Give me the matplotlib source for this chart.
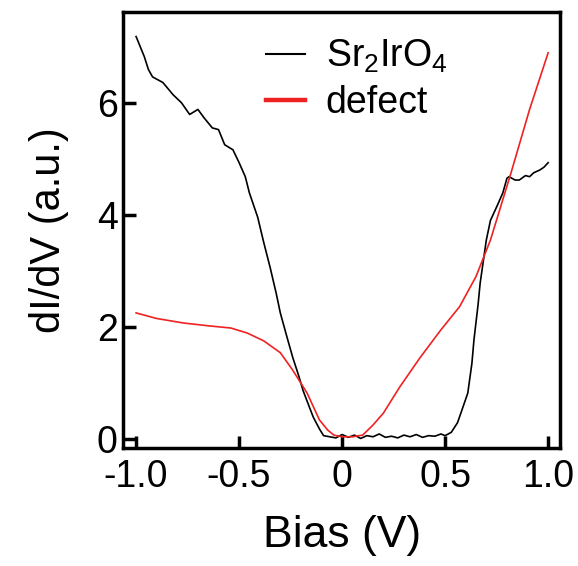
# dI/dV spectra: Sr2IrO4 vs defect

import matplotlib
matplotlib.use('Agg')
import matplotlib.pyplot as plt
from matplotlib.lines import Line2D

# Sr2IrO4 (black)
bias_sr = [-1.00, -0.98, -0.96, -0.94, -0.92, -0.87, -0.82, -0.78, -0.74, -0.70,
           -0.67, -0.63, -0.60, -0.57, -0.53, -0.50, -0.47, -0.45, -0.41, -0.38,
           -0.35, -0.32, -0.30, -0.27, -0.24, -0.21, -0.19, -0.16, -0.14, -0.11,
           -0.09, -0.06, -0.03, 0.00, 0.03, 0.06, 0.09, 0.12, 0.15, 0.18,
           0.21, 0.24, 0.27, 0.30, 0.33, 0.36, 0.39, 0.42, 0.45, 0.48,
           0.50, 0.53, 0.56, 0.58, 0.61, 0.63, 0.64, 0.66, 0.67, 0.70,
           0.72, 0.75, 0.78, 0.80, 0.81, 0.84, 0.86, 0.89, 0.91, 0.93,
           0.96, 0.98, 1.00]
didv_sr = [7.18, 7.00, 6.82, 6.59, 6.46, 6.36, 6.14, 6.00, 5.79, 5.88,
           5.73, 5.55, 5.52, 5.25, 5.16, 4.93, 4.68, 4.39, 3.96, 3.50,
           3.07, 2.60, 2.25, 1.85, 1.46, 1.12, 0.87, 0.58, 0.39, 0.18,
           0.06, 0.04, 0.02, 0.08, 0.03, 0.07, 0.01, 0.06, 0.04, 0.09,
           0.03, 0.05, 0.02, 0.07, 0.04, 0.08, 0.03, 0.06, 0.05, 0.09,
           0.06, 0.12, 0.29, 0.50, 0.82, 1.35, 1.77, 2.40, 2.78, 3.55,
           3.90, 4.14, 4.39, 4.65, 4.68, 4.62, 4.62, 4.70, 4.68, 4.75,
           4.80, 4.85, 4.93]

# defect (red)
bias_def = [-1.00, -0.90, -0.77, -0.65, -0.54, -0.46, -0.38, -0.30, -0.24, -0.17,
            -0.11, -0.07, -0.04, 0.00, 0.05, 0.10, 0.15, 0.20, 0.28, 0.38,
            0.48, 0.57, 0.65, 0.72, 0.78, 0.82, 0.91, 1.00]
didv_def = [2.25, 2.15, 2.07, 2.02, 1.98, 1.89, 1.75, 1.54, 1.23, 0.82,
            0.34, 0.16, 0.07, 0.04, 0.04, 0.07, 0.25, 0.46, 0.93, 1.46,
            1.95, 2.36, 2.90, 3.55, 4.27, 4.75, 5.88, 6.89]

xticks = [-1.0, -0.5, 0, 0.5, 1.0]
xticklabels = ['-1.0', '-0.5', '0', '0.5', '1.0']
yticks = [0, 2, 4, 6]

plt.rcParams['font.family'] = ['Liberation Sans', 'DejaVu Sans']
plt.rcParams['mathtext.default'] = 'regular'

fig = plt.figure(figsize=(5.78, 5.66), dpi=100)
ax = fig.add_axes([0.213, 0.2085, 0.756, 0.7705])

ax.plot(bias_sr, didv_sr, color='black', lw=1.2)
ax.plot(bias_def, didv_def, color='#ee2222', lw=1.2)

ax.set_xlim(-1.063, 1.058)
ax.set_ylim(-0.16, 7.62)
ax.set_xticks(xticks)
ax.set_xticklabels(xticklabels)
ax.set_yticks(yticks)

ax.tick_params(direction='in', length=9, width=2.5, labelsize=27)
ax.tick_params(axis='x', pad=8)
ax.tick_params(axis='y', pad=4)
for s in ax.spines.values():
    s.set_linewidth(2.5)

ax.set_xlabel('Bias (V)', fontsize=32, labelpad=14)
ax.set_ylabel('dI/dV (a.u.)', fontsize=30, labelpad=20)

handles = [Line2D([], [], color='black', lw=1.5),
           Line2D([], [], color='#ee2222', lw=3.2)]
ax.legend(handles, [r'Sr$_2$IrO$_4$', 'defect'], loc='upper left',
          bbox_to_anchor=(0.266, 1.0), frameon=False, fontsize=27,
          handlelength=1.05, handletextpad=0.55, labelspacing=0.25,
          borderaxespad=0.3)

fig.savefig('out.png', dpi=100)
